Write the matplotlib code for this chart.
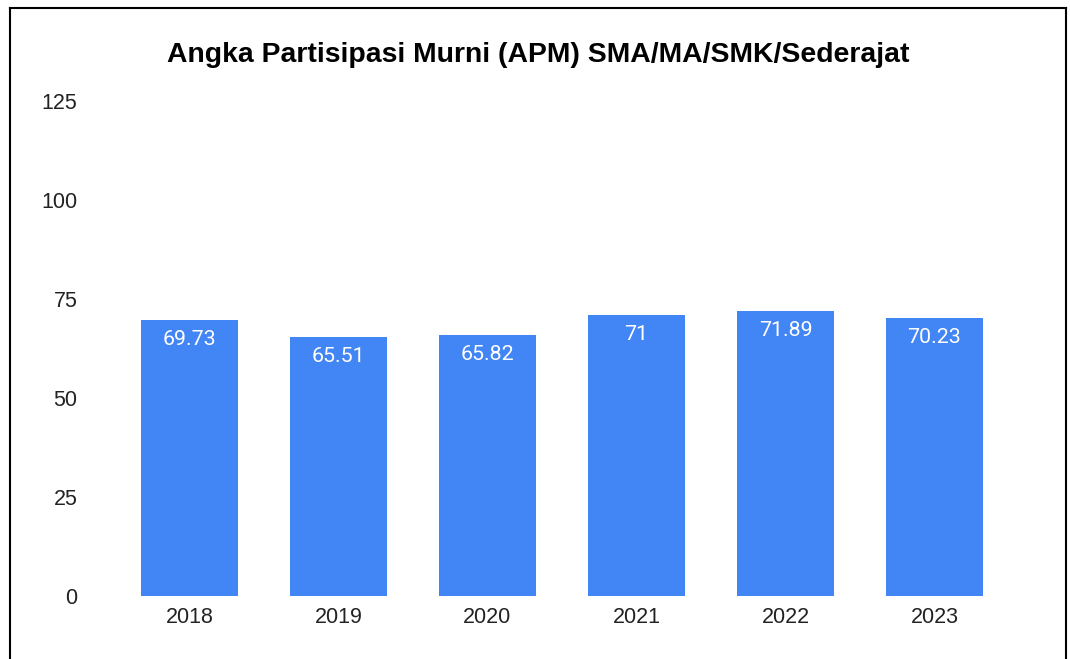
import matplotlib.pyplot as plt
from matplotlib.lines import Line2D

# Data
years = ['2018', '2019', '2020', '2021', '2022', '2023']
apm = [69.73, 65.51, 65.82, 71, 71.89, 70.23]
value_labels = ['69.73', '65.51', '65.82', '71', '71.89', '70.23']
yticks = [0, 25, 50, 75, 100, 125]

W, H = 1070, 659
fig = plt.figure(figsize=(W / 100, H / 100), dpi=100)
ax = fig.add_axes([115 / W, 63 / H, (1009 - 115) / W, (596 - 101) / H])

x = range(len(years))
bars = ax.bar(x, apm, width=0.65, color='#4285F4')

for b, lab in zip(bars, value_labels):
    ax.annotate(lab, (b.get_x() + b.get_width() / 2, b.get_height()),
                xytext=(0, -14), textcoords='offset points',
                ha='center', va='center', color='white',
                fontsize=15.4, family='Roboto')

ax.set_xlim(-0.5, len(years) - 0.5)
ax.set_ylim(0, 125)
ax.set_xticks(list(x))
ax.set_xticklabels(years, family='Liberation Sans', fontsize=15.5, color='#222222')
ax.set_yticks(yticks)
ax.set_yticklabels([str(v) for v in yticks], family='Liberation Sans', fontsize=15.5, color='#222222')
ax.tick_params(length=0)
ax.tick_params(axis='x', pad=8)
ax.tick_params(axis='y', pad=27)
for s in ax.spines.values():
    s.set_visible(False)

fig.text(538 / W, 1 - 55 / H, 'Angka Partisipasi Murni (APM) SMA/MA/SMK/Sederajat',
         ha='center', va='center', fontsize=20.4, fontweight='bold',
         family='Liberation Sans', color='#000000')

# border around the chart (bottom edge is cut off in the original)
bx0, bx1, by0 = 9.5 / W, 1065.5 / W, 1 - 7.5 / H
for xs, ys in [([bx0, bx0], [0, by0]), ([bx0, bx1], [by0, by0]), ([bx1, bx1], [by0, 0])]:
    fig.add_artist(Line2D(xs, ys, color='black', lw=1.5, transform=fig.transFigure))

fig.savefig('out.png', dpi=100)
